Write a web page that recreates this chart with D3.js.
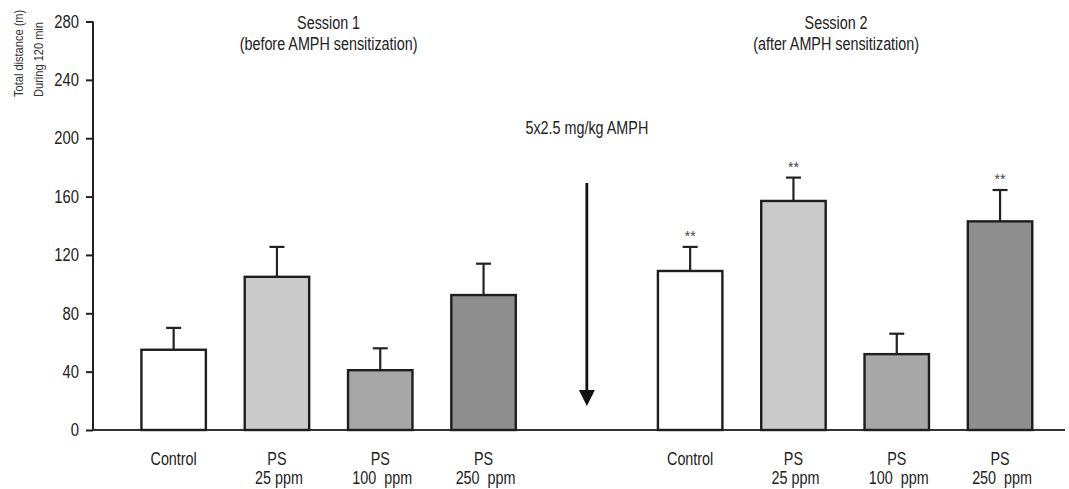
<!DOCTYPE html>
<html>
<head>
<meta charset="utf-8">
<script src="https://cdn.jsdelivr.net/npm/d3@7"></script>
<style>
  html, body { margin: 0; padding: 0; background: #fff; }
  svg { display: block; font-family: "Liberation Sans", Arial, sans-serif; }
</style>
</head>
<body>
<svg id="chart" width="1069" height="489"></svg>
<script>
// Slots along the x axis: four groups per session, one empty slot for the arrow
const slots = ["s1-ctrl", "s1-25", "s1-100", "s1-250", "gap", "s2-ctrl", "s2-25", "s2-100", "s2-250"];
const barKeys = ["s1-ctrl", "s1-25", "s1-100", "s1-250", "s2-ctrl", "s2-25", "s2-100", "s2-250"];
const groupLine1 = ["Control", "PS", "PS", "PS", "Control", "PS", "PS", "PS"];
const groupLine2 = ["", "25 ppm", "100  ppm", "250  ppm", "", "25 ppm", "100  ppm", "250  ppm"];
const means = [55, 105, 41, 92.5, 109, 157, 52, 143];
const errors = [15, 20.5, 15, 21.5, 16.5, 16, 14, 21.5];
const stars = ["", "", "", "", "**", "**", "", "**"];
const fillKind = ["ctrl", "p25", "p100", "p250", "ctrl", "p25", "p100", "p250"];
const yTicks = [0, 40, 80, 120, 160, 200, 240, 280];
const sessionTitles = [["Session 1", "(before AMPH sensitization)"], ["Session 2", "(after AMPH sensitization)"]];
const treatmentNote = "5x2.5 mg/kg AMPH";
const yTitleLines = ["Total distance (m)", "During 120 min"];

const fills = { ctrl: "#ffffff", p25: "#cacaca", p100: "#a7a7a7", p250: "#8e8e8e" };
const CONDENSE = 0.82; // horizontal squeeze giving a condensed face

const svg = d3.select("#chart");

const x = d3.scaleBand().domain(slots).range([122, 1051.7]).paddingInner(0.376).paddingOuter(0.188);
const y = d3.scaleLinear().domain([0, 280]).range([430, 21.5]);

// Y axis
const yAxis = svg.append("g")
  .attr("transform", "translate(93,0)")
  .call(d3.axisLeft(y).tickValues(yTicks).tickSize(7).tickPadding(7));
yAxis.select(".domain").attr("stroke", "#222").attr("stroke-width", 2).attr("d", `M0,${y(280)}V${y(0)}`);
yAxis.selectAll(".tick line").attr("stroke", "#222").attr("stroke-width", 2);
yAxis.selectAll(".tick text").attr("font-size", 18).attr("fill", "#222").attr("font-family", null).classed("cond", true);

// X baseline
svg.append("line")
  .attr("x1", 93).attr("x2", 1065)
  .attr("y1", y(0)).attr("y2", y(0))
  .attr("stroke", "#333").attr("stroke-width", 2);

// Y axis title (two rotated lines, condensed through the transform)
yTitleLines.forEach((t, i) => {
  svg.append("text")
    .attr("transform", `translate(${23 + i * 20},97) rotate(-90) scale(${CONDENSE},1)`)
    .attr("text-anchor", "start")
    .attr("font-size", 13.5)
    .attr("fill", "#333")
    .text(t);
});

const data = barKeys.map((k, i) => ({ key: k, mean: means[i], err: errors[i], star: stars[i], kind: fillKind[i], l1: groupLine1[i], l2: groupLine2[i] }));

// Error bars (drawn first so the bar outline covers the stem base)
const eb = svg.append("g");
data.forEach(d => {
  const cx = x(d.key) + x.bandwidth() / 2;
  eb.append("line").attr("x1", cx).attr("x2", cx).attr("y1", y(d.mean)).attr("y2", y(d.mean + d.err))
    .attr("stroke", "#222").attr("stroke-width", 2.2);
  eb.append("line").attr("x1", cx - 7.5).attr("x2", cx + 7.5).attr("y1", y(d.mean + d.err)).attr("y2", y(d.mean + d.err))
    .attr("stroke", "#222").attr("stroke-width", 2.2);
});

// Bars
svg.append("g").selectAll("rect").data(data).join("rect")
  .attr("x", d => x(d.key))
  .attr("y", d => y(d.mean))
  .attr("width", x.bandwidth())
  .attr("height", d => y(0) - y(d.mean))
  .attr("fill", d => fills[d.kind])
  .attr("stroke", "#1e1e1e")
  .attr("stroke-width", 2.4);

// Significance marks
svg.append("g").selectAll("text").data(data.filter(d => d.star)).join("text")
  .attr("x", d => x(d.key) + x.bandwidth() / 2)
  .attr("y", d => y(d.mean + d.err) - 6)
  .attr("text-anchor", "middle")
  .attr("font-size", 14)
  .attr("fill", "#444")
  .text(d => d.star);

// Group labels under the axis
const lbl = svg.append("g").attr("font-size", 17.5).attr("fill", "#222").attr("text-anchor", "middle");
data.forEach(d => {
  const cx = x(d.key) + x.bandwidth() / 2;
  lbl.append("text").attr("class", "cond").attr("x", cx).attr("y", 465).text(d.l1);
  if (d.l2) lbl.append("text").attr("class", "cond").attr("x", cx + 2).attr("y", 484)
    .attr("xml:space", "preserve").style("white-space", "pre").text(d.l2);
});

// Session titles, centred over each group of four
const sessionCentres = [
  (x("s1-ctrl") + x("s1-250") + x.bandwidth()) / 2,
  (x("s2-ctrl") + x("s2-250") + x.bandwidth()) / 2 - 9
];
sessionTitles.forEach((lines, i) => {
  lines.forEach((t, j) => {
    svg.append("text")
      .attr("class", "cond")
      .attr("x", sessionCentres[i])
      .attr("y", 29 + j * 21)
      .attr("text-anchor", "middle")
      .attr("font-size", 17.5)
      .attr("fill", "#222")
      .text(t);
  });
});

// Treatment arrow between sessions
const ax = x("gap") + x.bandwidth() / 2;
svg.append("text")
  .attr("class", "cond")
  .attr("x", ax).attr("y", 134)
  .attr("text-anchor", "middle")
  .attr("font-size", 17.5)
  .attr("fill", "#222")
  .text(treatmentNote);
svg.append("line")
  .attr("x1", ax).attr("x2", ax).attr("y1", 183).attr("y2", 392)
  .attr("stroke", "#111").attr("stroke-width", 2.8);
svg.append("path")
  .attr("d", `M${ax - 8},390 L${ax + 8},390 L${ax},406 Z`)
  .attr("fill", "#111");

// Condensed lettering: squeeze each label along its baseline
svg.selectAll("text.cond").each(function () {
  const w = this.getComputedTextLength();
  if (w > 0) {
    d3.select(this).attr("textLength", w * CONDENSE).attr("lengthAdjust", "spacingAndGlyphs");
  }
});
</script>
</body>
</html>
